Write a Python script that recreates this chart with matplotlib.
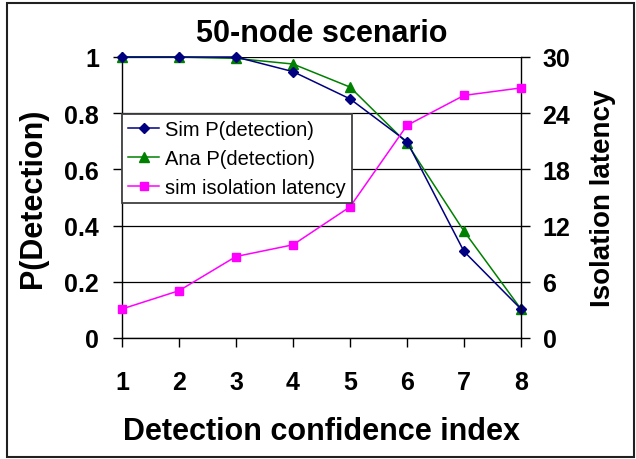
import matplotlib
matplotlib.use("Agg")
import matplotlib.pyplot as plt
from matplotlib.patches import Rectangle

plt.rcParams['font.family'] = ['Liberation Sans', 'DejaVu Sans']

x_index = [1, 2, 3, 4, 5, 6, 7, 8]
sim_pdet = [1.0, 1.0, 1.0, 0.948, 0.851, 0.699, 0.308, 0.103]
ana_pdet = [1.0, 1.0, 0.995, 0.975, 0.893, 0.693, 0.380, 0.103]
sim_latency = [3.1, 5.05, 8.7, 9.95, 14.0, 22.7, 25.9, 26.7]
left_ticks = [0, 0.2, 0.4, 0.6, 0.8, 1]
left_ticklabels = ['0', '0.2', '0.4', '0.6', '0.8', '1']
right_ticks = [0, 6, 12, 18, 24, 30]

W, H = 636, 460
fig = plt.figure(figsize=(W / 100, H / 100), dpi=100)
L, R, T, B = 122, 521, 58, 339
ax = fig.add_axes([L / W, 1 - B / H, (R - L) / W, (B - T) / H])
ax2 = ax.twinx()

# gridlines
for v in left_ticks:
    ax.axhline(v, color='black', lw=0.9, zorder=0.5)

l_ana, = ax.plot(x_index, ana_pdet, color='#008000', lw=1.1, marker='^', ms=7,
                 label='Ana P(detection)', clip_on=False, zorder=3)
l_sim, = ax.plot(x_index, sim_pdet, color='#000080', lw=1.1, marker='D', ms=5,
                 label='Sim P(detection)', clip_on=False, zorder=4)
l_lat, = ax2.plot(x_index, sim_latency, color='#FF00FF', lw=1.1, marker='s', ms=6,
                  label='sim isolation latency', clip_on=False, zorder=3)

ax.set_xlim(1, 8)
ax.set_ylim(0, 1)
ax2.set_ylim(0, 30)
ax.set_xticks(x_index)
ax.set_xticklabels([str(v) for v in x_index])
ax.set_yticks(left_ticks)
ax.set_yticklabels(left_ticklabels)
ax2.set_yticks(right_ticks)
ax2.set_yticklabels([str(v) for v in right_ticks])

for a in (ax, ax2):
    a.spines['top'].set_visible(False)
    for s in a.spines.values():
        s.set_color('black')
        s.set_linewidth(1.0)
ax2.spines['left'].set_visible(False)
ax2.spines['bottom'].set_visible(False)
ax.spines['right'].set_visible(False)

ax.tick_params(axis='y', direction='out', length=6.5, width=1, pad=10,
               labelsize=18)
ax.tick_params(axis='x', direction='out', length=6.5, width=1, pad=16.5,
               labelsize=18)
ax2.tick_params(axis='y', direction='out', length=6.5, width=1, pad=9,
                labelsize=18)
for lab in ax.get_xticklabels() + ax.get_yticklabels() + ax2.get_yticklabels():
    lab.set_fontweight('bold')

cx = (L + R) / 2 / W
fig.text(cx, 1 - 42.5 / H, '50-node scenario', ha='center', va='baseline',
         fontsize=22, fontweight='bold')
fig.text(cx, 1 - 440 / H, 'Detection confidence index', ha='center', va='baseline',
         fontsize=22, fontweight='bold')
cy = 1 - (T + B) / 2 / H
fig.text(33 / W, cy, 'P(Detection)', rotation=90, ha='center', va='center',
         fontsize=22, fontweight='bold')
fig.text(603 / W, cy, 'Isolation latency', rotation=90, ha='center', va='center',
         fontsize=20, fontweight='bold')

leg = ax2.legend([l_sim, l_ana, l_lat],
                 ['Sim P(detection)', 'Ana P(detection)', 'sim isolation latency'],
                 loc='upper left', bbox_to_anchor=(L / W, 1 - 115 / H),
                 bbox_transform=fig.transFigure, borderaxespad=0,
                 fontsize=14.5, fancybox=False, framealpha=1, edgecolor='#404040',
                 handlelength=1.55, handletextpad=0.3, labelspacing=0.5,
                 borderpad=0.3)
leg.get_frame().set_linewidth(1.3)

fig.patches.append(Rectangle((7 / W, 1 - 458 / H), (634 - 7) / W, (458 - 4) / H,
                             transform=fig.transFigure, fill=False,
                             edgecolor='#202020', lw=1.5))

fig.savefig('out.png', dpi=100)
